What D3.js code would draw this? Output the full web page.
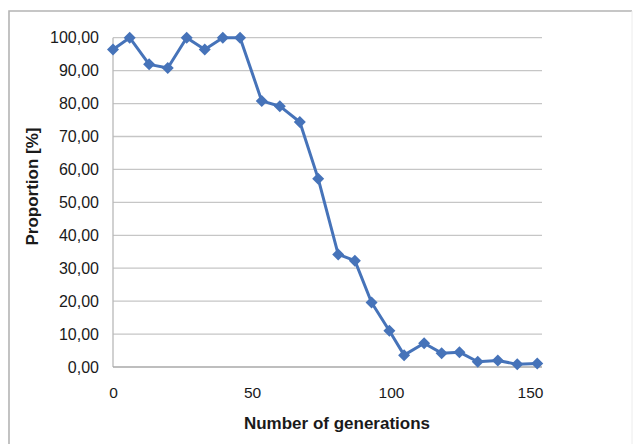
<!DOCTYPE html>
<html>
<head>
<meta charset="utf-8">
<script src="https://cdn.jsdelivr.net/npm/d3@7"></script>
<style>
  html, body { margin: 0; padding: 0; background: #ffffff; }
  svg { display: block; }
</style>
</head>
<body>
<svg id="chart" width="636" height="444"></svg>
<script>
const generations = [0, 6, 13, 19.7, 26.5, 33, 39.5, 45.7, 53.5, 60, 67.2, 73.8, 81, 87, 93, 99.4, 104.7, 111.9, 118.2, 124.6, 131.2, 138.4, 145.4, 152.6];
const proportion = [96.4, 100, 91.9, 90.8, 100, 96.4, 100, 100, 80.8, 79.2, 74.4, 57.2, 34.2, 32.3, 19.6, 11.0, 3.6, 7.2, 4.2, 4.5, 1.6, 2.0, 0.8, 1.1];
const xTicks = [0, 50, 100, 150];
const yTicks = [0, 10, 20, 30, 40, 50, 60, 70, 80, 90, 100];
const xTitle = "Number of generations";
const yTitle = "Proportion [%]";

(function () {
const svg = d3.select("#chart");
const W = 636, H = 444;
const mLeft = 113, mRight = 542, mTop = 37.7, mBottom = 367;

svg.append("rect").attr("width", W).attr("height", H).attr("fill", "#fff");

// outer chart border
svg.append("path")
  .attr("d", `M9,${H + 2} L9,11 L632,11`)
  .attr("fill", "none").attr("stroke", "#b4b4b4").attr("stroke-width", 1.6);
svg.append("line")
  .attr("x1", 632).attr("x2", 632).attr("y1", 11).attr("y2", H + 2)
  .attr("stroke", "#ececec").attr("stroke-width", 1);

const x = d3.scaleLinear().domain([0, 154.3]).range([mLeft, mRight]);
const y = d3.scaleLinear().domain([0, 100]).range([mBottom, mTop]);

// gridlines
svg.append("g")
  .selectAll("line").data(yTicks.filter(d => d > 0)).join("line")
  .attr("x1", mLeft).attr("x2", mRight)
  .attr("y1", d => y(d)).attr("y2", d => y(d))
  .attr("stroke", "#c6c6c6").attr("stroke-width", 1.3);

// axis lines
svg.append("line").attr("x1", mLeft).attr("x2", mLeft).attr("y1", mTop).attr("y2", mBottom)
  .attr("stroke", "#b8b8b8").attr("stroke-width", 1.3);
svg.append("line").attr("x1", mLeft).attr("x2", mRight).attr("y1", mBottom).attr("y2", mBottom)
  .attr("stroke", "#a8a8a8").attr("stroke-width", 1.5);

const fmt = d => d3.format(".2f")(d).replace(".", ",");

// y tick labels
const yAxis = d3.axisLeft(y).tickValues(yTicks).tickSize(0).tickPadding(14).tickFormat(fmt);
const gy = svg.append("g").attr("transform", `translate(${mLeft},0)`).call(yAxis);
gy.select(".domain").remove();
gy.selectAll("text")
  .attr("font-family", "'Liberation Sans', Arial, sans-serif")
  .attr("font-size", "16px").attr("fill", "#1a1a1a");

// x tick labels
const xAxis = d3.axisBottom(x).tickValues(xTicks).tickSize(0).tickPadding(20).tickFormat(d3.format("d"));
const gx = svg.append("g").attr("transform", `translate(0,${mBottom})`).call(xAxis);
gx.select(".domain").remove();
gx.selectAll("text")
  .attr("font-family", "'Liberation Sans', Arial, sans-serif")
  .attr("font-size", "15.5px").attr("fill", "#1a1a1a");

// axis titles
svg.append("text")
  .attr("x", 337).attr("y", 429)
  .attr("text-anchor", "middle")
  .attr("font-family", "'Liberation Sans', Arial, sans-serif")
  .attr("font-weight", "bold").attr("font-size", "17px").attr("fill", "#1a1a1a")
  .text(xTitle);
svg.append("text")
  .attr("transform", "translate(38,186.5) rotate(-90)")
  .attr("text-anchor", "middle")
  .attr("font-family", "'Liberation Sans', Arial, sans-serif")
  .attr("font-weight", "bold").attr("font-size", "17px").attr("fill", "#1a1a1a")
  .text(yTitle);

// series
const data = generations.map((g, i) => ({ g, v: proportion[i] }));
const blue = "#4673b9";
svg.append("path")
  .datum(data)
  .attr("fill", "none").attr("stroke", blue).attr("stroke-width", 3)
  .attr("stroke-linejoin", "round")
  .attr("d", d3.line().x(d => x(d.g)).y(d => y(d.v)));

const s = 6;
svg.append("g").selectAll("path").data(data).join("path")
  .attr("transform", d => `translate(${x(d.g)},${y(d.v)})`)
  .attr("d", `M0,${-s} L${s},0 L0,${s} L${-s},0 Z`)
  .attr("fill", blue);
})();
</script>
</body>
</html>
